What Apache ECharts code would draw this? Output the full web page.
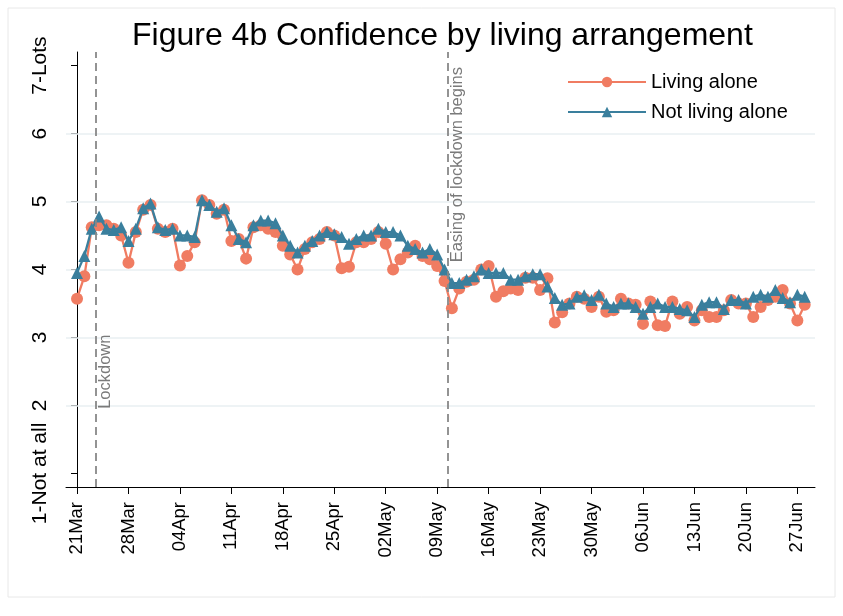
<!DOCTYPE html>
<html>
<head>
<meta charset="utf-8">
<title>Figure 4b Confidence by living arrangement</title>
<script src="https://cdn.jsdelivr.net/npm/echarts@6/dist/echarts.min.js"></script>
<style>
  html, body { margin: 0; padding: 0; background: #fff; }
  #main { width: 843px; height: 616px; }
</style>
</head>
<body>
<div id="main"></div>
<script>
// days since 21 March (0 = 21Mar ... 99 = 28Jun)
const tickDays = [0, 7, 14, 21, 28, 35, 42, 49, 56, 63, 70, 77, 84, 91, 98];
const tickLabels = ["21Mar", "28Mar", "04Apr", "11Apr", "18Apr", "25Apr", "02May",
  "09May", "16May", "23May", "30May", "06Jun", "13Jun", "20Jun", "27Jun"];
const yTicks = [1, 2, 3, 4, 5, 6, 7];
const yGrid = [2, 3, 4, 5, 6];

const livingAlone = [
  3.57, 3.90, 4.62, 4.65, 4.65, 4.60, 4.50, 4.10, 4.55, 4.88,
  4.95, 4.60, 4.55, 4.60, 4.06, 4.20, 4.40, 5.02, 4.95, 4.82,
  4.88, 4.42, 4.45, 4.16, 4.62, 4.65, 4.60, 4.55, 4.35, 4.22,
  4.00, 4.30, 4.40, 4.45, 4.55, 4.50, 4.02, 4.04, 4.40, 4.40,
  4.45, 4.55, 4.38, 4.00, 4.15, 4.25, 4.35, 4.20, 4.15, 4.05,
  3.83, 3.43, 3.72, 3.82, 3.85, 4.00, 4.05, 3.60, 3.68, 3.72,
  3.70, 3.88, 3.88, 3.70, 3.87, 3.22, 3.37, 3.50, 3.60, 3.57,
  3.45, 3.60, 3.38, 3.40, 3.57, 3.50, 3.48, 3.20, 3.53, 3.18,
  3.17, 3.53, 3.35, 3.45, 3.25, 3.40, 3.30, 3.30, 3.40, 3.55,
  3.50, 3.50, 3.30, 3.45, 3.55, 3.60, 3.70, 3.50, 3.25, 3.48
];
const notLivingAlone = [
  3.95, 4.20, 4.60, 4.78, 4.60, 4.58, 4.62, 4.42, 4.60, 4.90,
  4.97, 4.62, 4.58, 4.60, 4.50, 4.50, 4.48, 5.02, 4.95, 4.85,
  4.90, 4.65, 4.45, 4.40, 4.65, 4.72, 4.72, 4.68, 4.50, 4.35,
  4.25, 4.35, 4.42, 4.50, 4.55, 4.52, 4.48, 4.38, 4.45, 4.50,
  4.50, 4.60, 4.55, 4.55, 4.50, 4.35, 4.30, 4.25, 4.30, 4.22,
  4.00, 3.80, 3.80, 3.85, 3.90, 4.00, 3.95, 3.95, 3.95, 3.85,
  3.85, 3.90, 3.93, 3.93, 3.75, 3.58, 3.48, 3.50, 3.60, 3.62,
  3.55, 3.63, 3.50, 3.45, 3.50, 3.50, 3.45, 3.35, 3.45, 3.50,
  3.45, 3.45, 3.42, 3.40, 3.30, 3.48, 3.52, 3.52, 3.42, 3.55,
  3.55, 3.50, 3.60, 3.63, 3.60, 3.70, 3.58, 3.52, 3.63, 3.60
];
// event lines (fractional day: evening announcements)
const lockdownDay = 2.6;
const easingDay = 50.4;

const orange = "#f07c62";
const teal = "#3a7f9d";
const font = "Liberation Sans, Arial";

let chartDom = document.getElementById("main");
let myChart = echarts.init(chartDom);

let option = {
  animation: false,
  backgroundColor: "#fff",
  title: {
    text: "Figure 4b Confidence by living arrangement",
    left: 127,
    top: 15,
    textStyle: { fontFamily: font, fontSize: 32, fontWeight: "normal", color: "#000" },
  },
  grid: { left: 66, right: 28, top: 52, bottom: 129 },
  legend: {
    orient: "vertical",
    left: 562,
    top: 67,
    itemWidth: 78,
    itemHeight: 13,
    itemGap: 10,
    textStyle: { fontFamily: font, fontSize: 20, color: "#000" },
    data: ["Living alone", "Not living alone"],
  },
  xAxis: {
    type: "value",
    min: -1.5,
    max: 100.4,
    splitLine: { show: false },
    axisLine: { lineStyle: { color: "#000", width: 1 } },
    axisTick: { show: true, length: 7, customValues: tickDays, lineStyle: { color: "#000" } },
    axisLabel: {
      customValues: tickDays,
      rotate: 90,
      margin: 15,
      color: "#000",
      fontFamily: font,
      fontSize: 18.5,
      formatter: (v) => tickLabels[tickDays.indexOf(Math.round(v))] || "",
    },
  },
  yAxis: {
    type: "value",
    min: 0.8,
    max: 7.2,
    splitLine: { show: false },
    axisLine: { show: true, lineStyle: { color: "#000", width: 1 } },
    axisTick: { show: true, length: 6, customValues: yTicks, lineStyle: { color: "#000" } },
    axisLabel: {
      customValues: yTicks,
      rotate: 90,
      margin: 15,
      color: "#000",
      fontFamily: font,
      fontSize: 21,
      formatter: (v) => (v === 1 ? "1-Not at all" : v === 7 ? "7-Lots" : String(v)),
    },
  },
  series: [
    {
      name: "Living alone",
      type: "line",
      symbol: "circle",
      symbolSize: 12,
      itemStyle: { color: orange },
      lineStyle: { color: orange, width: 2.3 },
      data: livingAlone.map((v, i) => [i, v]),
      z: 3,
      markLine: {
        silent: true,
        symbol: "none",
        label: { show: false },
        lineStyle: { color: "#e9eff2", width: 1.5, type: "solid" },
        z: 1,
        data: yGrid.map((v) => ({ yAxis: v })),
      },
    },
    {
      name: "Not living alone",
      type: "line",
      symbol: "triangle",
      symbolSize: 12,
      itemStyle: { color: teal },
      lineStyle: { color: teal, width: 2.3 },
      data: notLivingAlone.map((v, i) => [i, v]),
      z: 4,
      markLine: {
        silent: true,
        symbol: "none",
        label: { show: false },
        lineStyle: { color: "#888", width: 1.8, type: [8, 5] },
        data: [{ xAxis: lockdownDay }, { xAxis: easingDay }],
      },
    },
  ],
};

option && myChart.setOption(option);

// event annotations, placed from data coordinates
let pLock = myChart.convertToPixel({ gridIndex: 0 }, [lockdownDay, 1.95]);
let pEase = myChart.convertToPixel({ gridIndex: 0 }, [easingDay, 6.98]);
myChart.setOption({
  graphic: [
    {
      type: "rect",
      shape: { x: 8, y: 8, width: 827, height: 589 },
      style: { fill: "none", stroke: "#e8e8e8", lineWidth: 1 },
      silent: true,
    },
    {
      type: "text",
      x: pLock[0] + 1,
      y: pLock[1],
      rotation: Math.PI / 2,
      style: { text: "Lockdown", fill: "#7a7a7a", font: "16.5px 'Liberation Sans', Arial", align: "left", verticalAlign: "top" },
      z: 10,
    },
    {
      type: "text",
      x: pEase[0] + 1,
      y: pEase[1],
      rotation: Math.PI / 2,
      style: { text: "Easing of lockdown begins", fill: "#7a7a7a", font: "16.5px 'Liberation Sans', Arial", align: "right", verticalAlign: "top" },
      z: 10,
    },
  ],
});
</script>
</body>
</html>
